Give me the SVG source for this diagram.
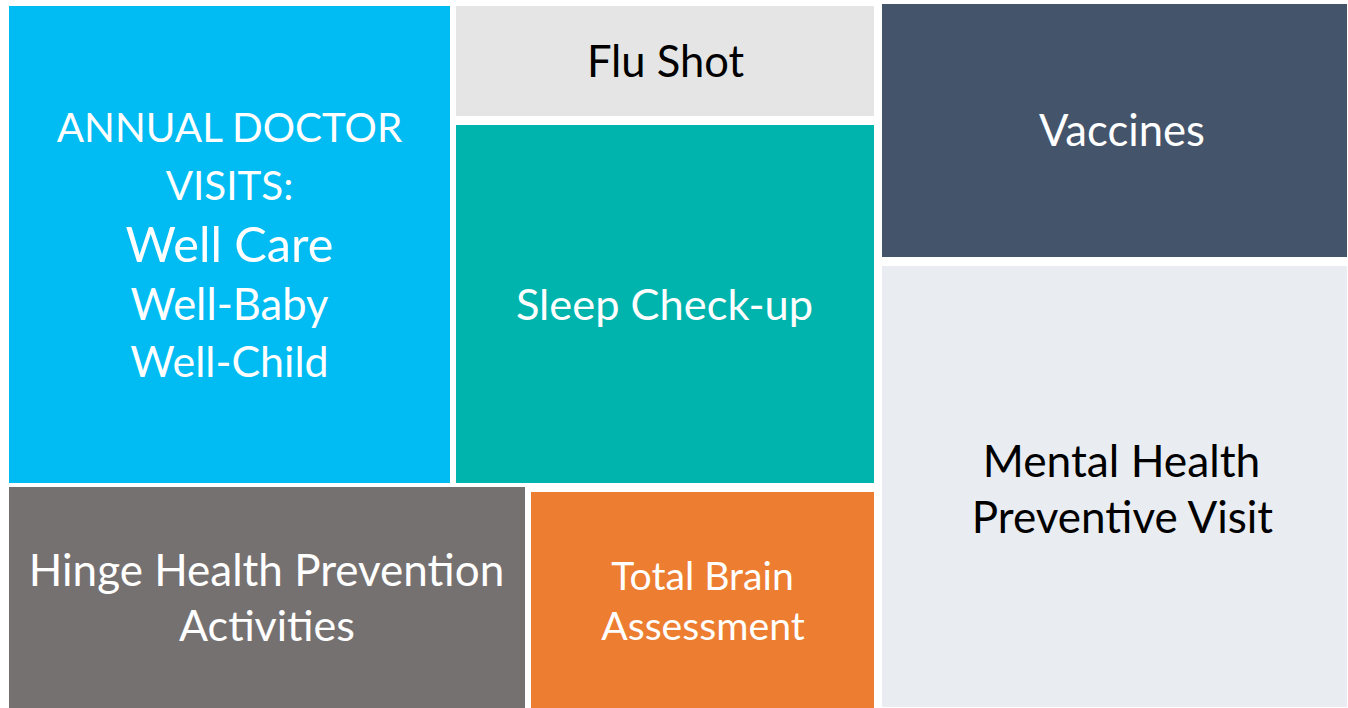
<svg xmlns="http://www.w3.org/2000/svg" width="1348" height="708" viewBox="0 0 1348 708">
<style>
.t{font-family:Lato,"Open Sans","Liberation Sans",sans-serif;text-anchor:middle}
.w{fill:#ffffff}
.k{fill:#000000}
</style>
<rect x="0" y="0" width="1348" height="708" fill="#ffffff"/>
<g id="annual">
<rect x="9" y="6" width="441" height="477" fill="#00BCF2"/>
<text class="t w" x="229.5" y="142" font-size="40.4">ANNUAL DOCTOR</text>
<text class="t w" x="229.5" y="200" font-size="40.4">VISITS:</text>
<text class="t w" x="229.5" y="262" font-size="48.7">Well Care</text>
<text class="t w" x="229.5" y="320" font-size="43.5">Well-Baby</text>
<text class="t w" x="229.5" y="377" font-size="43">Well-Child</text>
</g>
<g id="flu">
<rect x="456" y="6" width="418" height="110" fill="#E5E5E5"/>
<text class="t k" x="665.5" y="77" font-size="43.5">Flu Shot</text>
</g>
<g id="sleep">
<rect x="456" y="125" width="418" height="358" fill="#00B4AE"/>
<text class="t w" x="664.5" y="320" font-size="43.4">Sleep Check-up</text>
</g>
<g id="vaccines">
<rect x="882" y="4" width="465" height="253" fill="#44546A"/>
<text class="t w" x="1122" y="146" font-size="43.6">Vaccines</text>
</g>
<g id="mental">
<rect x="882" y="266" width="465" height="441" fill="#E9ECF1"/>
<text class="t k" x="1121.5" y="477" font-size="44.3">Mental Health</text>
<text class="t k" x="1122.5" y="533" font-size="44">Preventive Visit</text>
</g>
<g id="hinge">
<rect x="9" y="487" width="516" height="221" fill="#767171"/>
<text class="t w" x="266.5" y="586" font-size="44">Hinge Health Prevention</text>
<text class="t w" x="267" y="641" font-size="43">Activities</text>
</g>
<g id="brain">
<rect x="531" y="492" width="343" height="216" fill="#ED7D31"/>
<text class="t w" x="702.5" y="590" font-size="39.2">Total Brain</text>
<text class="t w" x="703" y="640" font-size="39.2">Assessment</text>
</g>
<g id="connectors"></g>
</svg>
